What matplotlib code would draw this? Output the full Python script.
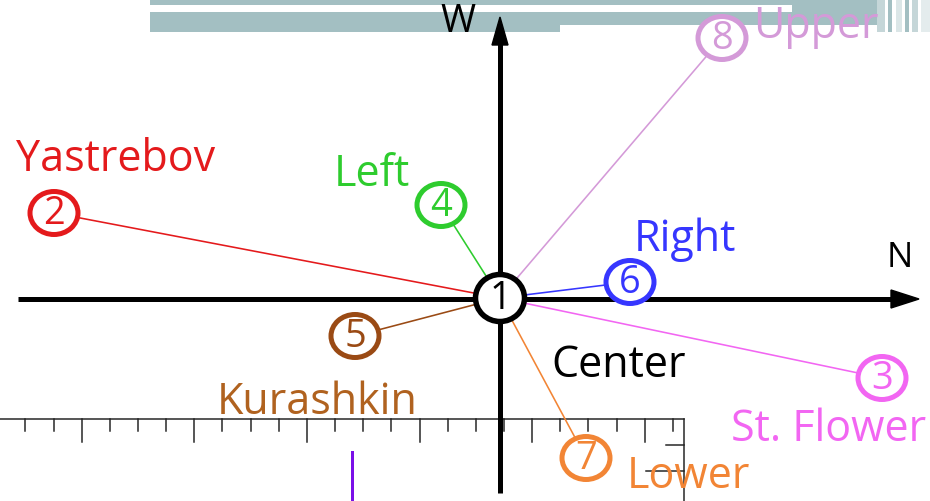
"""
Recreate the compass-style site diagram (center node 1 with spokes).
"""
import matplotlib
matplotlib.use('Agg')
import matplotlib.pyplot as plt
from matplotlib.patches import Ellipse, Rectangle, Polygon

plt.rcParams['font.family'] = ['Open Sans', 'DejaVu Sans']

# node data (pixel coordinates of the drawing, y grows downward)
node_ids = ['2', '3', '4', '5', '6', '7', '8']
node_names = ['Yastrebov', 'St. Flower', 'Left', 'Kurashkin', 'Right', 'Lower', 'Upper']
node_x = [54, 882, 441, 355, 630, 586, 722]
node_y = [213, 378, 205, 336, 282, 458, 38]
label_x = [116, 829, 372, 317, 685, 688, 816]
label_y = [160, 430, 175, 403, 240, 477, 27]
node_colors = ['#e41a1c', '#f266f2', '#2ecc2e', '#9a4a14', '#3636ff', '#f28535', '#d49ad8']
label_colors = ['#e41a1c', '#f266f2', '#2ecc2e', '#b0621f', '#3636ff', '#f28535', '#d49ad8']

center = (500, 298)
axis_labels = ['W', 'N']
ruler_ticks = [25.4 + 28.15 * i for i in range(24)]

W, H = 930, 501
fig = plt.figure(figsize=(9.3, 5.01), dpi=100)
ax = fig.add_axes([0, 0, 1, 1])
ax.set_xlim(0, W)
ax.set_ylim(H, 0)
ax.axis('off')

def px(v):
    return v * 0.72

# grey-teal bars at the top (window chrome)
teal = '#a3bfc2'
ax.add_patch(Rectangle((150, 0), 727, 5, color=teal, lw=0))
ax.add_patch(Rectangle((792, 5), 85, 7, color=teal, lw=0))
ax.add_patch(Rectangle((150, 12), 727, 13, color=teal, lw=0))
ax.add_patch(Rectangle((150, 25), 410, 7, color=teal, lw=0))
for sx, sw, c in [(877, 8, '#c5d6d8'), (888, 4, '#a3bfc2'), (896, 6, '#dbe6e7'),
                  (905, 4, '#a3bfc2'), (912, 6, '#c5d6d8'), (921, 9, '#e4eced')]:
    ax.add_patch(Rectangle((sx, 0), sw, 32, color=c, lw=0))

# bottom ruler
ax.plot([0, 684], [419, 419], color='#222222', lw=px(1.5), zorder=2)
for i, tx in enumerate(ruler_ticks):
    ln = 23 if i % 4 == 2 else 12
    ax.plot([tx, tx], [419, 419 + ln], color='#222222', lw=px(1.5), zorder=2)
ax.plot([684, 684], [419, H], color='#222222', lw=px(1.5), zorder=2)
ax.plot([666, 684], [445, 445], color='#222222', lw=px(1.5), zorder=2)
ax.plot([646, 684], [471, 471], color='#222222', lw=px(1.5), zorder=2)
ax.plot([352, 352], [452, H], color='#7a10e8', lw=px(3), zorder=2)

# main axes with arrowheads
ax.plot([18, 905], [299, 299], color='black', lw=px(5), zorder=3, solid_capstyle='butt')
ax.add_patch(Polygon([[919, 299], [891, 290], [891, 308]], color='black', zorder=3))
ax.plot([500, 500], [32, 493], color='black', lw=px(5), zorder=3, solid_capstyle='butt')
ax.add_patch(Polygon([[500, 17], [492, 45], [508, 45]], color='black', zorder=3))
ax.text(458, 22, axis_labels[0], fontsize=px(38), color='black', ha='center', va='center', zorder=4)
ax.text(900, 258, axis_labels[1], fontsize=px(35), color='black', ha='center', va='center', zorder=4)
ax.text(619, 366, 'Center', fontsize=px(43), color='black', ha='center', va='center', zorder=4)

# spokes from the center node
for nx, ny, c in zip(node_x, node_y, node_colors):
    ax.plot([center[0], nx], [center[1], ny], color=c, lw=px(1.6), zorder=4)

# outer nodes
for nid, name, nx, ny, lx, ly, c, lc in zip(node_ids, node_names, node_x, node_y,
                                          label_x, label_y, node_colors, label_colors):
    ax.add_patch(Ellipse((nx, ny), 48, 43, facecolor='white', edgecolor=c,
                         lw=px(5), zorder=5))
    ax.text(nx, ny + 1, nid, fontsize=px(38), color=c, ha='center', va='center', zorder=6)
    ax.text(lx, ly, name, fontsize=px(43), color=lc, ha='center', va='center', zorder=6)

# center node
ax.add_patch(Ellipse(center, 49, 47, facecolor='white', edgecolor='black',
                     lw=px(5.5), zorder=7))
ax.text(center[0], center[1] + 1, '1', fontsize=px(38), color='black',
        ha='center', va='center', zorder=8)

plt.savefig('out.png', dpi=100)
plt.close('all')
